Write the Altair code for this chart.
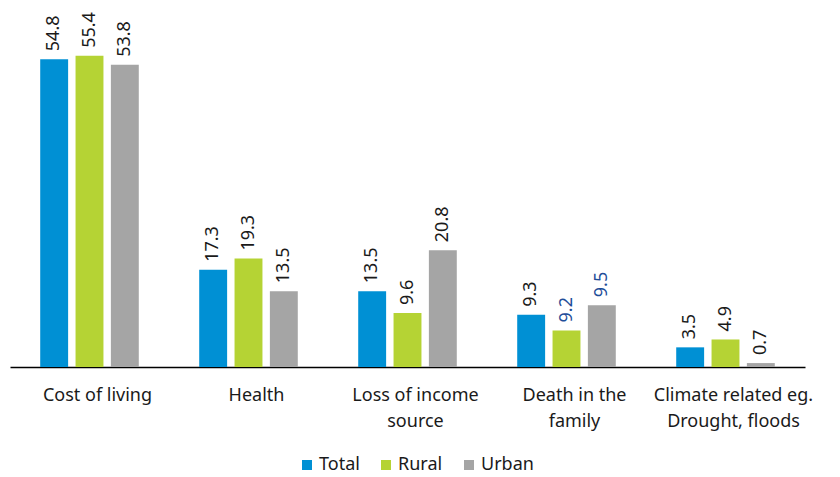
import altair as alt
import pandas as pd

categories = ["Cost of living", "Health", "Loss of income|source", "Death in the|family",
              "Climate related eg.|Drought, floods"]
series = ["Total", "Rural", "Urban"]
colors = ["#0090D4", "#B5D334", "#A5A5A5"]

# bar heights as drawn
total = [54.8, 17.3, 13.5, 9.3, 3.5]
rural = [55.4, 19.3, 9.6, 6.5, 4.9]
urban = [53.8, 13.5, 20.8, 11.0, 0.7]

# printed labels
total_lbl = ["54.8", "17.3", "13.5", "9.3", "3.5"]
rural_lbl = ["55.4", "19.3", "9.6", "9.2", "4.9"]
urban_lbl = ["53.8", "13.5", "20.8", "9.5", "0.7"]

# label colours (dark blue marks edited labels)
total_lc = ["#1a1a1a"] * 5
rural_lc = ["#1a1a1a", "#1a1a1a", "#1a1a1a", "#1F4E99", "#1a1a1a"]
urban_lc = ["#1a1a1a", "#1a1a1a", "#1a1a1a", "#1F4E99", "#1a1a1a"]

rows = []
for s, vals, lbls, lcs in [("Total", total, total_lbl, total_lc),
                           ("Rural", rural, rural_lbl, rural_lc),
                           ("Urban", urban, urban_lbl, urban_lc)]:
    for c, v, l, lc in zip(categories, vals, lbls, lcs):
        rows.append({"cat": c, "series": s, "value": v, "label": l, "lc": lc})
df = pd.DataFrame(rows)

FONT = "Noto Sans"

x = alt.X("cat:N", sort=categories,
          scale=alt.Scale(paddingInner=0.38, paddingOuter=0.19),
          axis=alt.Axis(title=None, labelAngle=0, ticks=False, domainColor="#000000",
                        domainWidth=1.6, labelFontSize=18, labelFont=FONT,
                        labelColor="#1a1a1a", labelPadding=19, labelLineHeight=26,
                        labelOffset=8,
                        labelExpr="split(datum.label, '|')"))
xo = alt.XOffset("series:N", sort=series,
                 scale=alt.Scale(paddingInner=0.21, paddingOuter=0))
y = alt.Y("value:Q", scale=alt.Scale(domain=[0, 60]), axis=None)

bars = alt.Chart(df).mark_bar().encode(
    x=x, xOffset=xo, y=y,
    color=alt.Color("series:N", sort=series,
                    scale=alt.Scale(domain=series, range=colors),
                    legend=alt.Legend(title=None, orient="none", direction="horizontal",
                                      legendX=288, legendY=426, symbolType="square",
                                      symbolSize=100, symbolStrokeWidth=0,
                                      labelFontSize=18, labelFont=FONT,
                                      labelColor="#1a1a1a", columnPadding=17,
                                      labelOffset=3)),
)

text = alt.Chart(df).mark_text(angle=270, align="left", baseline="middle", dx=8,
                               fontSize=18, font=FONT).encode(
    x=x, xOffset=xo, y=y,
    text="label:N",
    color=alt.Color("lc:N", scale=None),
)

chart = (bars + text).properties(
    width=795, height=337,
    autosize=alt.AutoSizeParams(type="none"),
    padding={"left": 2, "top": 22, "right": 20, "bottom": 108},
).configure_view(stroke=None)

chart.save("out.html", embed_options={"renderer": "svg", "actions": False})
